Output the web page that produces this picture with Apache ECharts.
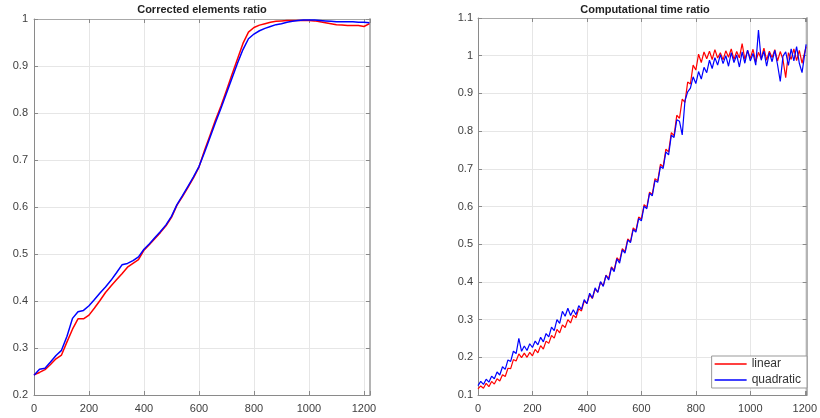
<!DOCTYPE html>
<html>
<head>
<meta charset="utf-8">
<script src="https://cdn.jsdelivr.net/npm/echarts@6/dist/echarts.min.js"></script>
<style>
  html, body { margin: 0; padding: 0; background: #fff; }
  #main { width: 820px; height: 418px; }
</style>
</head>
<body>
<div id="main"></div>
<script>
// left panel: corrected elements ratio, sampled every 20
var xsLeft = [0, 20, 40, 60, 80, 100, 120, 140, 160, 180, 200, 220, 240, 260, 280, 300, 320, 340, 360, 380,
  400, 420, 440, 460, 480, 500, 520, 540, 560, 580, 600, 620, 640, 660, 680, 700, 720, 740, 760, 780,
  800, 820, 840, 860, 880, 900, 920, 940, 960, 980, 1000, 1020, 1040, 1060, 1080, 1100, 1120, 1140, 1160, 1180,
  1200, 1220];
var elemLinear = [0.243, 0.248, 0.254, 0.265, 0.277, 0.285, 0.313, 0.34, 0.362, 0.362, 0.37, 0.385, 0.401, 0.418, 0.432, 0.445, 0.458, 0.472, 0.48, 0.488,
  0.508, 0.52, 0.533, 0.546, 0.56, 0.578, 0.604, 0.622, 0.642, 0.662, 0.685, 0.72, 0.752, 0.785, 0.815, 0.848, 0.882, 0.915, 0.948, 0.972,
  0.982, 0.987, 0.99, 0.993, 0.995, 0.996, 0.997, 0.997, 0.997, 0.997, 0.997, 0.996, 0.994, 0.992, 0.99, 0.988, 0.987, 0.986, 0.986, 0.986,
  0.984, 0.99];
var elemQuadratic = [0.242, 0.255, 0.257, 0.27, 0.284, 0.295, 0.325, 0.363, 0.377, 0.38, 0.39, 0.403, 0.417, 0.43, 0.444, 0.46, 0.477, 0.48, 0.486, 0.494,
  0.51, 0.522, 0.535, 0.548, 0.562, 0.58, 0.605, 0.624, 0.644, 0.664, 0.686, 0.716, 0.748, 0.78, 0.81, 0.842, 0.874, 0.906, 0.935, 0.958,
  0.968, 0.975, 0.98, 0.984, 0.988, 0.99, 0.993, 0.995, 0.997, 0.998, 0.998, 0.998, 0.997, 0.996, 0.995, 0.994, 0.994, 0.994, 0.994, 0.993,
  0.993, 0.992];

// right panel: computational time ratio, sampled every 10
var xsRight = [0, 10, 20, 30, 40, 50, 60, 70, 80, 90, 100, 110, 120, 130, 140, 150, 160, 170, 180, 190,
  200, 210, 220, 230, 240, 250, 260, 270, 280, 290, 300, 310, 320, 330, 340, 350, 360, 370, 380, 390,
  400, 410, 420, 430, 440, 450, 460, 470, 480, 490, 500, 510, 520, 530, 540, 550, 560, 570, 580, 590,
  600, 610, 620, 630, 640, 650, 660, 670, 680, 690, 700, 710, 720, 730, 740, 750, 760, 770, 780, 790,
  800, 810, 820, 830, 840, 850, 860, 870, 880, 890, 900, 910, 920, 930, 940, 950, 960, 970, 980, 990,
  1000, 1010, 1020, 1030, 1040, 1050, 1060, 1070, 1080, 1090, 1100, 1110, 1120, 1130, 1140, 1150, 1160, 1170, 1180, 1190,
  1205];
var timeLinear = [0.116, 0.124, 0.118, 0.131, 0.122, 0.136, 0.129, 0.143, 0.137, 0.154, 0.149, 0.171, 0.170, 0.194, 0.190, 0.209, 0.199, 0.211, 0.200, 0.213,
  0.204, 0.221, 0.212, 0.231, 0.222, 0.243, 0.237, 0.258, 0.251, 0.274, 0.265, 0.286, 0.279, 0.300, 0.291, 0.312, 0.305, 0.329, 0.323, 0.349,
  0.343, 0.366, 0.356, 0.381, 0.373, 0.399, 0.390, 0.418, 0.409, 0.440, 0.431, 0.464, 0.456, 0.488, 0.480, 0.514, 0.507, 0.543, 0.536, 0.572,
  0.567, 0.605, 0.598, 0.638, 0.632, 0.674, 0.668, 0.712, 0.705, 0.752, 0.745, 0.796, 0.788, 0.842, 0.834, 0.885, 0.876, 0.930, 0.925, 0.975,
  0.962, 1.004, 0.982, 1.010, 0.992, 1.012, 0.990, 1.016, 0.994, 1.008, 0.989, 1.013, 0.996, 1.018, 0.990, 1.011, 0.994, 1.032, 0.990, 1.014,
  0.993, 1.017, 0.984, 1.009, 0.992, 1.020, 0.988, 1.012, 0.995, 1.016, 0.986, 1.011, 0.990, 0.942, 1.008, 0.990, 1.018, 0.987, 1.014, 0.980,
  1.024];
var timeQuadratic = [0.125, 0.136, 0.128, 0.142, 0.134, 0.150, 0.143, 0.161, 0.153, 0.175, 0.168, 0.193, 0.189, 0.216, 0.210, 0.250, 0.216, 0.230, 0.218, 0.236,
  0.226, 0.243, 0.233, 0.253, 0.241, 0.263, 0.254, 0.280, 0.271, 0.300, 0.290, 0.322, 0.309, 0.330, 0.311, 0.326, 0.313, 0.337, 0.327, 0.353,
  0.342, 0.370, 0.357, 0.384, 0.372, 0.401, 0.388, 0.417, 0.405, 0.438, 0.427, 0.461, 0.450, 0.485, 0.476, 0.511, 0.504, 0.539, 0.532, 0.568,
  0.562, 0.601, 0.594, 0.635, 0.628, 0.669, 0.664, 0.706, 0.701, 0.745, 0.737, 0.789, 0.783, 0.830, 0.826, 0.790, 0.880, 0.904, 0.914, 0.944,
  0.926, 0.958, 0.938, 0.969, 0.955, 0.988, 0.966, 0.995, 0.975, 1.003, 0.979, 1.000, 0.972, 1.008, 0.982, 1.002, 0.970, 1.010, 0.980, 1.015,
  0.986, 1.006, 0.975, 1.068, 0.988, 1.012, 0.972, 1.008, 0.984, 1.014, 0.976, 0.932, 0.999, 1.010, 0.974, 1.018, 0.986, 1.024, 0.980, 0.955,
  1.030];

var seriesNames = ['linear', 'quadratic'];
var titles = ['Corrected elements ratio', 'Computational time ratio'];

function pairs(xs, ys) {
  var res = [];
  for (var i = 0; i < xs.length; i++) res.push([xs[i], ys[i]]);
  return res;
}

var labelFont = { color: '#404040', fontSize: 11, fontFamily: 'Arial, "Liberation Sans", sans-serif' };
var axisGray = '#8a8a8a';

function xAxisFor(grid, max, top) {
  return {
    type: 'value', gridIndex: grid, min: 0, max: max, interval: 200,
    position: top ? 'top' : 'bottom',
    axisLine: { show: true, onZero: false, lineStyle: { color: top ? '#a8a8a8' : axisGray, width: 1 } },
    axisTick: { show: true, inside: true, length: 4, lineStyle: { color: axisGray } },
    axisLabel: top ? { show: false } : Object.assign({
      margin: 8,
      formatter: function (v) { return v % 200 === 0 ? String(v) : ''; }
    }, labelFont),
    splitLine: { show: !top, lineStyle: { color: '#e6e6e6' } }
  };
}

function yAxisFor(grid, min, max, right, margin) {
  return {
    type: 'value', gridIndex: grid, min: min, max: max, interval: 0.1,
    position: right ? 'right' : 'left',
    axisLine: { show: true, onZero: false, lineStyle: { color: right ? '#b4b4b4' : axisGray, width: right ? 2 : 1 } },
    axisTick: { show: true, inside: true, length: 4, lineStyle: { color: axisGray } },
    axisLabel: right ? { show: false } : Object.assign({
      margin: margin,
      formatter: function (v) { return String(Math.round(v * 10) / 10); }
    }, labelFont),
    splitLine: { show: !right, lineStyle: { color: '#e6e6e6' } }
  };
}

var chart = echarts.init(document.getElementById('main'), null, { renderer: 'canvas' });

var option = {
  animation: false,
  backgroundColor: '#ffffff',
  graphic: [
    { type: 'text', x: 202, y: 10, style: { text: titles[0], textAlign: 'center', textVerticalAlign: 'middle',
      font: 'bold 11px Arial, "Liberation Sans", sans-serif', fill: '#222' } },
    { type: 'text', x: 645, y: 10, style: { text: titles[1], textAlign: 'center', textVerticalAlign: 'middle',
      font: 'bold 11px Arial, "Liberation Sans", sans-serif', fill: '#222' } }
  ],
  grid: [
    { left: 34, top: 19, width: 336, height: 376, containLabel: false },
    { left: 478, top: 18, width: 330, height: 377, containLabel: false }
  ],
  legend: {
    data: seriesNames,
    orient: 'vertical',
    right: 13,
    bottom: 30,
    icon: 'rect',
    itemWidth: 32,
    itemHeight: 1.5,
    itemGap: 2,
    padding: [1, 6, 1, 3],
    backgroundColor: '#fff',
    borderColor: '#999',
    borderWidth: 1,
    borderRadius: 0,
    textStyle: { color: '#333', fontSize: 12, lineHeight: 14, fontFamily: 'Arial, "Liberation Sans", sans-serif' }
  },
  xAxis: [
    xAxisFor(0, 1222, false), xAxisFor(0, 1222, true),
    xAxisFor(1, 1207, false), xAxisFor(1, 1207, true)
  ],
  yAxis: [
    yAxisFor(0, 0.2, 1, false, 6), yAxisFor(0, 0.2, 1, true, 6),
    yAxisFor(1, 0.1, 1.1, false, 5), yAxisFor(1, 0.1, 1.1, true, 5)
  ],
  series: [
    {
      name: seriesNames[0], type: 'line', xAxisIndex: 0, yAxisIndex: 0,
      data: pairs(xsLeft, elemLinear), symbol: 'none', smooth: false,
      lineStyle: { color: '#ff0000', width: 1.5 }, itemStyle: { color: '#ff0000' }
    },
    {
      name: seriesNames[1], type: 'line', xAxisIndex: 0, yAxisIndex: 0,
      data: pairs(xsLeft, elemQuadratic), symbol: 'none', smooth: false,
      lineStyle: { color: '#0000ff', width: 1.5 }, itemStyle: { color: '#0000ff' }
    },
    {
      name: seriesNames[0], type: 'line', xAxisIndex: 2, yAxisIndex: 2,
      data: pairs(xsRight, timeLinear), symbol: 'none',
      lineStyle: { color: '#ff0000', width: 1.2 }, itemStyle: { color: '#ff0000' }
    },
    {
      name: seriesNames[1], type: 'line', xAxisIndex: 2, yAxisIndex: 2,
      data: pairs(xsRight, timeQuadratic), symbol: 'none',
      lineStyle: { color: '#0000ff', width: 1.2 }, itemStyle: { color: '#0000ff' }
    }
  ]
};

chart.setOption(option);
</script>
</body>
</html>
